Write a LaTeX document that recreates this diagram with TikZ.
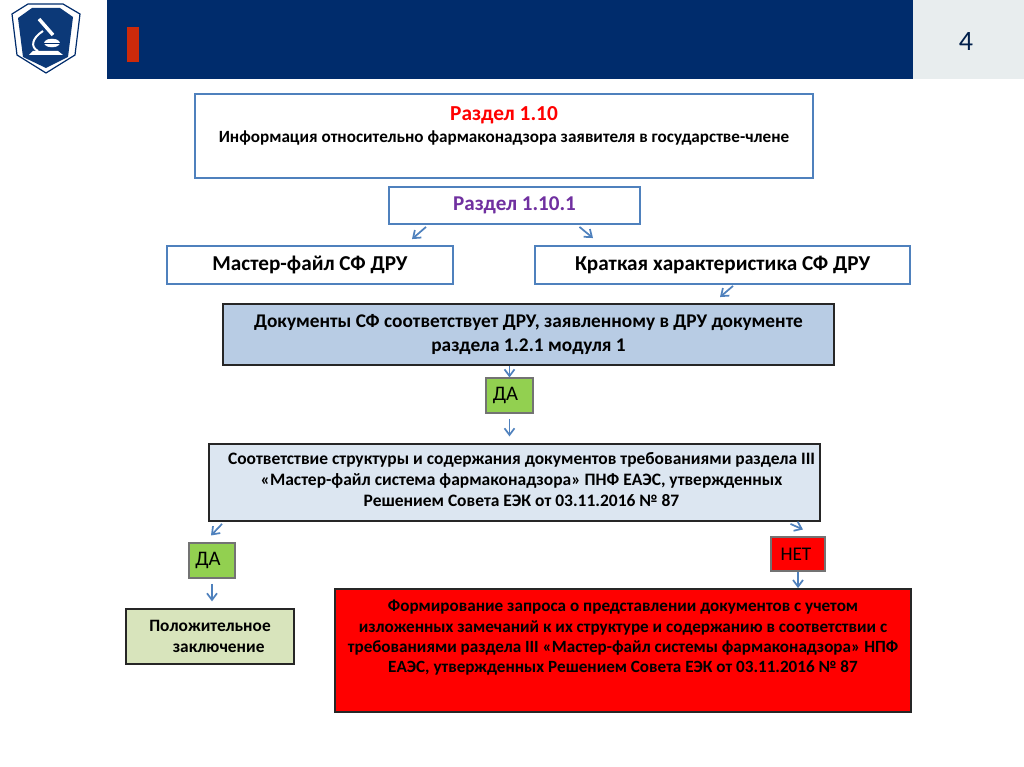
\documentclass[tikz,border=0pt]{standalone}
\usepackage{fontspec}
\setmainfont{Carlito}
\usetikzlibrary{calc,arrows.meta}
\definecolor{navy}{HTML}{002C6C}
\definecolor{panel}{HTML}{E8EDEE}
\definecolor{edge}{HTML}{4F81BD}
\definecolor{barred}{HTML}{CC2A0A}
\definecolor{title}{HTML}{7030A0}
\definecolor{steel}{HTML}{B8CCE4}
\definecolor{pale}{HTML}{DCE6F1}
\definecolor{leaf}{HTML}{92D050}
\definecolor{sage}{HTML}{D8E4BC}

\begin{document}
\begin{tikzpicture}[x=0.75pt,y=-0.75pt,>={Straight Barb[length=5pt,width=7.5pt]}]
    \tikzset{
      box/.style={draw=edge, line width=1.4pt, fill=white, align=center, inner sep=0pt, font=\bfseries\fontsize{12.85}{17}\selectfont},
      bigbox/.style={box, font=\bfseries\fontsize{15.9}{17}\selectfont},
      darkbox/.style={box, draw=black!85, font=\bfseries\fontsize{13}{16}\selectfont},
      tag/.style={draw=black!55, line width=.8pt, align=center, inner sep=0pt, font=\fontsize{15.5}{15}\selectfont},
      flow/.style={->, draw=edge, line width=1.3pt}
    }
    \useasboundingbox (0,0) rectangle (1024,767);

    % header band
    \fill[navy] (107,0) rectangle (913,79);
    \fill[panel] (913,0) rectangle (1024,79);
    \fill[barred] (127,27) rectangle (139,62);
    \node[font=\fontsize{21}{22}\selectfont, text=navy!70!black] (page) at (966,42) {4};

    % logo
    \draw[fill=white, draw=navy, line width=.9pt] (12,14) -- (28,4) -- (63,4) -- (80,14) -- (75,55) -- (46,73) -- (17,55) -- cycle;
    \fill[navy!85!edge] (18,18) -- (32,8) -- (60,8) -- (73,17) -- (68,57) -- (46,68) -- (23,57) -- cycle;
    \fill[white] (29,55) -- (63,55) -- (58,51) -- (33,51) -- cycle;
    \draw[white, line width=2.6pt] (39,19) -- (53,35);
    \draw[white, line width=1.5pt] (43,31) .. controls (32,38) and (30,47) .. (38,51);
    \draw[white, fill=white, line width=.4pt] (52,43) ellipse (7.5 and 4);
    \draw[navy, line width=.5pt] (44,43) -- (60,43);

    % boxes
    \node[box, minimum width=618*0.75pt, minimum height=84*0.75pt] (sec) at (504,136)
    {{\color{red}\fontsize{16}{17}\selectfont Раздел 1.10}\\Информация относительно фармаконадзора заявителя в государстве-члене\\ \mbox{}};

    \node[box, minimum width=251*0.75pt, minimum height=37*0.75pt, font=\bfseries\fontsize{15.8}{17}\selectfont, text=title] (sub) at (514.5,205.5)
    {Раздел 1.10.1};

    \node[bigbox, minimum width=286*0.75pt, minimum height=38*0.75pt] (master) at (310,265)
    {Мастер-файл СФ ДРУ};

    \node[bigbox, minimum width=375*0.75pt, minimum height=38*0.75pt] (brief) at (722.5,265)
    {Краткая характеристика СФ ДРУ};

    \node[box, draw=black!85, fill=steel, minimum width=611*0.75pt, minimum height=61*0.75pt, font=\bfseries\fontsize{14.5}{17.6}\selectfont] (docs) at (528.5,334.5)
    {Документы СФ соответствует ДРУ, заявленному в ДРУ документе\\раздела 1.2.1 модуля 1};

    \node[tag, fill=leaf, minimum width=47*0.75pt, minimum height=35*0.75pt] (yes) at (509.5,395.5) {\raisebox{-1pt}{ДА}\hspace*{6pt}};

    \node[darkbox, fill=pale, minimum width=611*0.75pt, minimum height=77*0.75pt, font=\bfseries\fontsize{13.1}{16}\selectfont] (check) at (514.5,482.5)
    {\hspace*{10.5pt}Соответствие структуры и содержания документов требованиями раздела III\\
    \hspace*{10.5pt}«Мастер-файл система фармаконадзора» ПНФ ЕАЭС, утвержденных\\
    \hspace*{10.5pt}Решением Совета ЕЭК от 03.11.2016 № 87\\[-11.5pt] \mbox{}};

    \node[tag, fill=leaf, minimum width=46*0.75pt, minimum height=35*0.75pt] (yesb) at (212,560.5) {\raisebox{-1pt}{ДА}\hspace*{6pt}};

    \node[tag, fill=red, minimum width=54*0.75pt, minimum height=34*0.75pt, font=\fontsize{14.5}{15}\selectfont] (no) at (798,554) {НЕТ\hspace*{3pt}};

    \node[darkbox, fill=sage, minimum width=168*0.75pt, minimum height=55*0.75pt] (concl) at (210,636.5)
    {Положительное\\\hspace*{1em}заключение};

    \node[darkbox, fill=red, minimum width=576*0.75pt, minimum height=123*0.75pt, font=\bfseries\fontsize{12.85}{15.2}\selectfont] (req) at (623,650.5)
    {Формирование запроса о представлении документов с учетом\\
    изложенных замечаний к их структуре и содержанию в соответствии с\\
    требованиями раздела III «Мастер-файл системы фармаконадзора» НПФ\\
    ЕАЭС, утвержденных Решением Совета ЕЭК от 03.11.2016 № 87\\[6pt] \mbox{}};

    % arrows
    \draw[flow] ($(sub.south)+(-88.5,2)$) -- ($(master.north)+(102,-6)$);
    \draw[flow] ($(sub.south)+(65,2)$) -- ($(brief.north)+(-129.5,-7)$);
    \draw[flow] ($(brief.south)+(10.5,1)$) -- ($(docs.north)+(191.5,-6)$);
    \draw[flow] (yes.north |- docs.south) -- (yes.north);
    \draw[flow, shorten <=4pt, shorten >=5pt] (yes.south) -- (yes.south |- check.north);
    \draw[flow] ($(check.south)+(-292.5,2)$) -- ($(yesb.north)+(-1,-7)$);
    \draw[flow] ($(check.south)+(276,2)$) -- ($(no.north)+(5,-7)$);
    \draw[flow] (no.south) -- (no.south |- req.north);
    \draw[flow, shorten <=4pt, shorten >=5pt] (yesb.south) -- (yesb.south |- concl.north);
  \end{tikzpicture}
\end{document}
